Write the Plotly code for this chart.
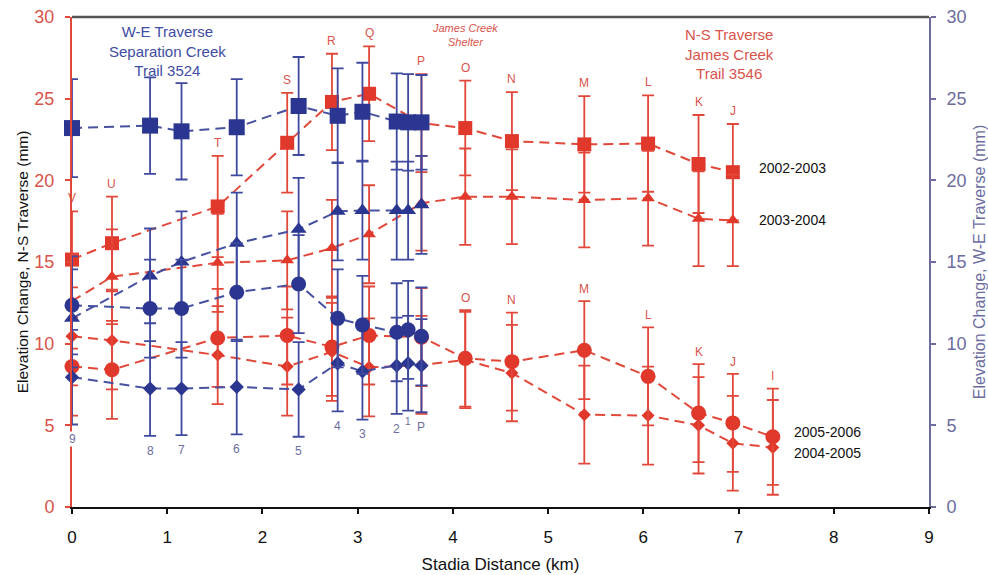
import plotly.graph_objects as go

# ---- N-S traverse (James Creek, Trail 3546), stations V..I ----
ns_stations = ["V", "U", "T", "S", "R", "Q", "P", "O", "N", "M", "L", "K", "J", "I"]
ns_km = [0.00, 0.42, 1.53, 2.26, 2.73, 3.12, 3.67, 4.13, 4.62, 5.38, 6.05, 6.58, 6.94, 7.36]

ns_2002_2003 = [15.15, 16.15, 18.4, 22.3, 24.8, 25.3, 23.5, 23.2, 22.4, 22.2, 22.25, 21.0, 20.5]
ns_2002_2003_err = [2.95, 2.85, 3.1, 3.05, 2.95, 2.9, 3.0, 2.9, 3.0, 2.95, 2.95, 3.0, 2.95]
ns_2003_2004 = [12.6, 14.1, 14.95, 15.1, 15.85, 16.7, 18.6, 19.0, 19.0, 18.8, 18.9, 17.65, 17.55]
ns_2003_2004_err = [2.9, 2.9, 3.0, 3.0, 2.95, 3.0, 2.9, 2.95, 2.9, 2.9, 2.9, 2.9, 2.8]
ns_2004_2005 = [10.45, 10.2, 9.3, 8.6, 9.5, 8.55, 8.7, 9.0, 8.2, 5.65, 5.6, 5.0, 3.9, 3.65]
ns_2004_2005_err = [3.0, 3.0, 3.0, 3.0, 3.0, 3.0, 3.0, 2.95, 2.95, 3.0, 3.0, 2.95, 2.9, 2.9]
ns_2005_2006 = [8.6, 8.4, 10.35, 10.5, 9.8, 10.5, 10.4, 9.1, 8.9, 9.6, 8.0, 5.75, 5.15, 4.3]
ns_2005_2006_err = [3.0, 3.0, 3.0, 3.0, 3.0, 3.0, 3.0, 2.95, 3.0, 3.0, 3.0, 3.0, 3.0, 2.95]

# ---- W-E traverse (Separation Creek, Trail 3524), stations 9..P ----
we_stations = ["9", "8", "7", "6", "5", "4", "3", "2", "1", "P"]
we_km = [0.00, 0.82, 1.15, 1.73, 2.38, 2.79, 3.05, 3.41, 3.53, 3.67]

we_2002_2003 = [23.2, 23.35, 23.0, 23.25, 24.55, 23.95, 24.2, 23.6, 23.55, 23.55]
we_2002_2003_err = [3.0, 2.95, 2.95, 2.95, 3.0, 2.9, 3.0, 2.95, 2.95, 2.9]
we_2003_2004 = [11.55, 14.15, 15.0, 16.15, 17.0, 18.1, 18.15, 18.15, 18.15, 18.5]
we_2003_2004_err = [3.0, 2.9, 3.1, 3.1, 3.15, 3.0, 3.0, 3.0, 3.0, 3.0]
we_2004_2005 = [7.95, 7.25, 7.25, 7.35, 7.2, 8.8, 8.3, 8.65, 8.8, 8.65]
we_2004_2005_err = [2.9, 2.9, 2.85, 2.9, 2.9, 2.95, 2.95, 2.95, 2.9, 2.85]
we_2005_2006 = [12.35, 12.15, 12.15, 13.15, 13.65, 11.55, 11.15, 10.7, 10.85, 10.45]
we_2005_2006_err = [3.0, 3.0, 3.0, 3.0, 3.0, 3.0, 3.0, 3.0, 3.0, 3.0]

x_ticks = [0, 1, 2, 3, 4, 5, 6, 7, 8, 9]
y_ticks = [0, 5, 10, 15, 20, 25, 30]

RED = "#e0382b"
RED_LINE = "#e2483a"
RED_TEXT = "#d9534a"
BLUE = "#2b3690"
BLUE_LINE = "#4651a0"
BLUE_BAR = "#3f4a9e"
SLATE = "#6c6d9e"
FONT = "Liberation Sans, Arial, sans-serif"

fig = go.Figure()


def add_series(x, y, err, symbol, size, color, line_color, bar_color, axis):
    fig.add_trace(go.Scatter(
        x=x[:len(y)], y=y, yaxis=axis, mode="lines+markers", cliponaxis=False,
        line=dict(color=line_color, width=2, dash="10px,6px"),
        marker=dict(symbol=symbol, size=size, color=color,
                    line=dict(width=0)),
        error_y=dict(type="data", array=err, visible=True,
                     color=bar_color, thickness=1.8, width=6),
        showlegend=False, hoverinfo="skip",
    ))


# N-S traverse on the left axis
add_series(ns_km, ns_2002_2003, ns_2002_2003_err, "square", 14, RED, RED_LINE, RED_LINE, "y")
add_series(ns_km, ns_2003_2004, ns_2003_2004_err, "triangle-up", 12, RED, RED_LINE, RED_LINE, "y")
add_series(ns_km, ns_2004_2005, ns_2004_2005_err, "diamond", 10, RED, RED_LINE, RED_LINE, "y")
add_series(ns_km, ns_2005_2006, ns_2005_2006_err, "circle", 15, RED, RED_LINE, RED_LINE, "y")

# W-E traverse on the right axis
add_series(we_km, we_2002_2003, we_2002_2003_err, "square", 16, BLUE, BLUE_LINE, BLUE_BAR, "y2")
add_series(we_km, we_2003_2004, we_2003_2004_err, "triangle-up", 14, BLUE, BLUE_LINE, BLUE_BAR, "y2")
add_series(we_km, we_2004_2005, we_2004_2005_err, "diamond", 11, BLUE, BLUE_LINE, BLUE_BAR, "y2")
add_series(we_km, we_2005_2006, we_2005_2006_err, "circle", 15, BLUE, BLUE_LINE, BLUE_BAR, "y2")

annotations = []

# Station letters above the upper N-S bars
for k, v, e, name in zip(ns_km, ns_2002_2003, ns_2002_2003_err, ns_stations):
    annotations.append(dict(x=k, y=v + e + 0.8, xref="x", yref="y", text=name,
                            showarrow=False, font=dict(size=12, color=RED_TEXT, family=FONT)))

# Station letters above the lower N-S bars (O onward)
for k, v, e, name in zip(ns_km, ns_2005_2006, ns_2005_2006_err, ns_stations):
    if ns_km.index(k) >= ns_stations.index("O"):
        annotations.append(dict(x=k, y=v + e + 0.75, xref="x", yref="y", text=name,
                                showarrow=False, font=dict(size=12, color=RED_TEXT, family=FONT)))

# Station numbers below the lower W-E bars
for k, v, e, name in zip(we_km, we_2004_2005, we_2004_2005_err, we_stations):
    dy = 0.9
    sz = 12
    if name == "1":
        dy, sz = 0.65, 10
    annotations.append(dict(x=k, y=v - e - dy, xref="x", yref="y2", text=name,
                            showarrow=False, bgcolor="white" if name == "9" else None,
                            borderpad=0,
                            font=dict(size=sz, color=SLATE, family=FONT)))

# Traverse titles (anchored just inside the top of the axis range)
annotations += [
    dict(x=1.0, y=29.9, yshift=-2, xref="x", yref="y", yanchor="top", showarrow=False,
         text="W-E Traverse<br>Separation Creek<br>Trail 3524",
         font=dict(size=15, color="#3e4ca3", family=FONT)),
    dict(x=4.13, y=29.9, yshift=-1, xref="x", yref="y", yanchor="top", showarrow=False,
         text="<i>James Creek<br>Shelter</i>",
         font=dict(size=11, color=RED_TEXT, family=FONT)),
    dict(x=6.9, y=29.6, xref="x", yref="y", yanchor="top", showarrow=False,
         text="N-S Traverse<br>James Creek<br>Trail 3546",
         font=dict(size=15, color=RED_TEXT, family=FONT)),
]

# Period labels next to the series ends
for label, xx, yy in [("2002-2003", 7.19, 20.75), ("2003-2004", 7.19, 17.56),
                      ("2005-2006", 7.56, 4.58), ("2004-2005", 7.56, 3.3)]:
    annotations.append(dict(x=xx, y=yy, xref="x", yref="y", xanchor="left",
                            showarrow=False, text=label,
                            font=dict(size=14, color="#111111", family=FONT)))

fig.update_layout(
    width=988, height=575,
    margin=dict(l=72, r=59, t=17, b=68),
    paper_bgcolor="white", plot_bgcolor="white",
    font=dict(family=FONT),
    xaxis=dict(range=[0, 9], tickvals=x_ticks, showgrid=False, zeroline=False,
               automargin=False,
               showline=True, linecolor="#111111", linewidth=2,
               ticks="outside", ticklen=5, tickcolor="#111111", tickwidth=1.5,
               ticklabelstandoff=9,
               tickfont=dict(size=17, color="#111111"),
               title=dict(text="Stadia Distance (km)", standoff=12,
                          font=dict(size=17, color="#111111"))),
    yaxis=dict(range=[0, 30], tickvals=y_ticks, showgrid=False, zeroline=False,
               automargin=False,
               showline=True, linecolor=RED_LINE, linewidth=2,
               ticks="outside", ticklen=5, tickcolor=RED_LINE, tickwidth=1.5,
               ticklabelstandoff=7,
               tickfont=dict(size=18, color=RED_TEXT),
               title=dict(text="Elevation Change, N-S Traverse (mm)", standoff=2,
                          font=dict(size=15.5, color="#111111"))),
    yaxis2=dict(range=[0, 30], tickvals=y_ticks, overlaying="y", side="right",
                showgrid=False, zeroline=False, automargin=False,
                showline=True, linecolor=SLATE, linewidth=2,
                ticks="outside", ticklen=5, tickcolor=SLATE, tickwidth=1.5,
                ticklabelstandoff=7,
                tickfont=dict(size=18, color=SLATE),
                title=dict(text="Elevation Change, W-E Traverse (mm)", standoff=12,
                           font=dict(size=16, color=SLATE))),
    annotations=annotations,
    shapes=[dict(type="line", xref="paper", yref="paper", x0=0, x1=1, y0=1, y1=1,
                 line=dict(color="#555555", width=2.5))],
)

fig.write_html("out.html")
